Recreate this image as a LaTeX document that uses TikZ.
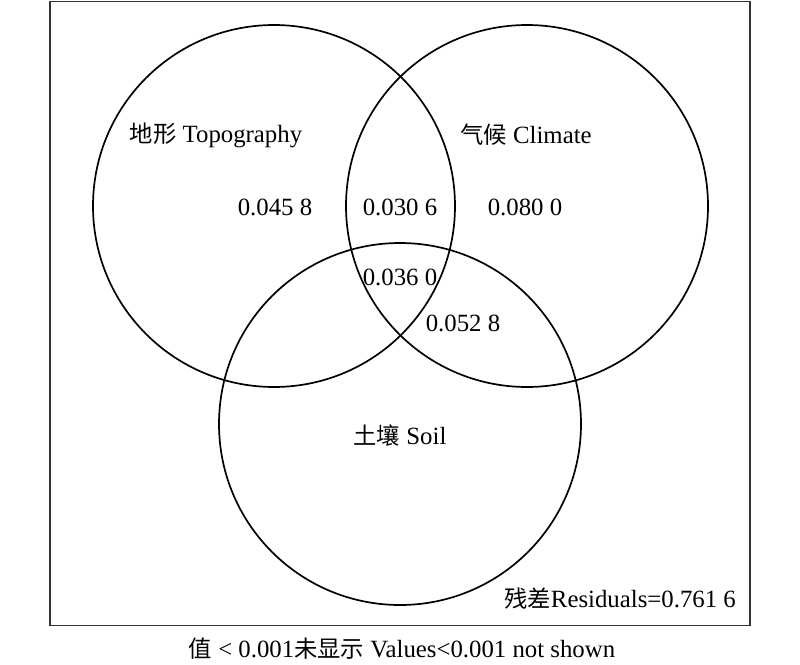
\documentclass[tikz,border=0pt]{standalone}
\usepackage{fontspec}
\setmainfont{Liberation Serif}
\newfontfamily\cjk{Noto Sans CJK SC}[Scale=0.94]
\begin{document}
\begin{tikzpicture}[x=1pt,y=-1pt,
  venn/.style={draw=black,line width=1.7pt},
  lbl/.style={font=\fontsize{24.8}{27}\selectfont,inner sep=0pt,anchor=center},
  frame/.style={draw=black!80,line width=1.8pt}]
\useasboundingbox (0,0) rectangle (800,664);
\fill[white] (0,0) rectangle (800,664);
\node[frame,minimum width=700pt,minimum height=624pt,inner sep=0pt] (box) at (400,313.5) {};
\draw[venn] (274,206) circle[radius=181];
\draw[venn] (527,206) circle[radius=181];
\draw[venn] (400,424) circle[radius=181];
\node[lbl] (topo) at (216,135) {{\cjk 地形} Topography};
\node[lbl] (clim) at (526,135) {{\cjk 气候} Climate};
\node[lbl] (soil) at (400,436) {{\cjk 土壤} Soil};
\node[lbl] (a) at (275,207) {0.045 8};
\node[lbl] (b) at (400,207) {0.030 6};
\node[lbl] (c) at (525,207) {0.080 0};
\node[lbl] (d) at (400,277) {0.036 0};
\node[lbl] (e) at (463,323) {0.052 8};
\node[lbl,anchor=east] (res) at (736,599) {{\cjk 残差}Residuals=0.761 6};
\node[lbl] (cap) at (402,649) {{\cjk 值} {\textless} 0.001{\cjk 未显示} Values{\textless}0.001 not shown};
\end{tikzpicture}
\end{document}
